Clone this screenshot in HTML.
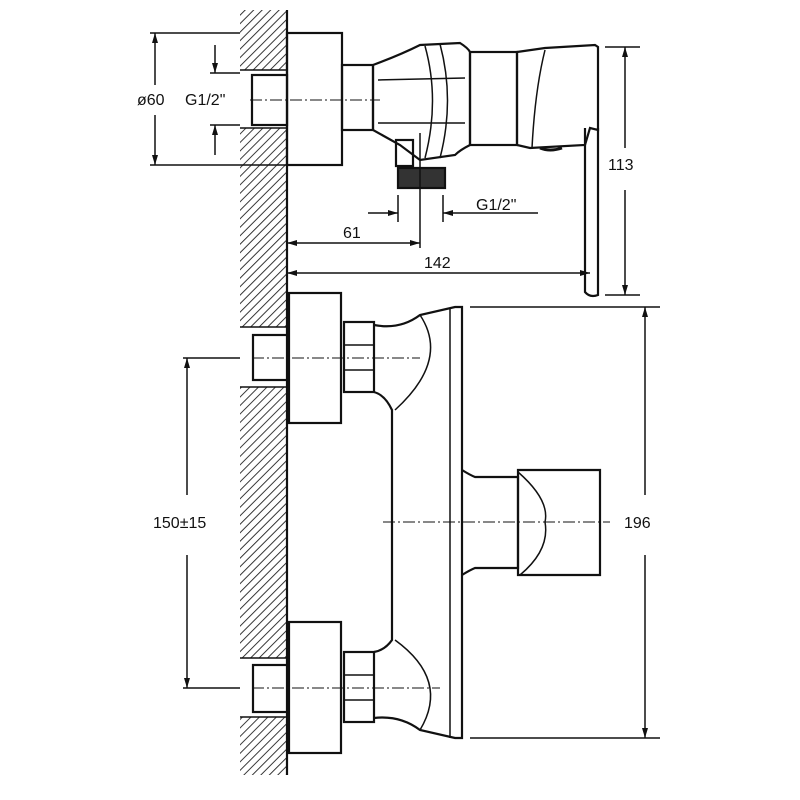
<!DOCTYPE html>
<html><head><meta charset="utf-8"><style>html,body{margin:0;padding:0;background:#fff}svg{display:block}</style></head><body>
<svg width="800" height="800" viewBox="0 0 800 800" xmlns="http://www.w3.org/2000/svg" font-family="Liberation Sans, sans-serif">
<defs>
<pattern id="h" width="6" height="6" patternUnits="userSpaceOnUse" patternTransform="rotate(45)">
<line x1="0" y1="0" x2="0" y2="6" stroke="#222" stroke-width="1.8"/>
</pattern>
<marker id="a" viewBox="0 0 10 6" refX="10" refY="3" markerWidth="10" markerHeight="6" orient="auto-start-reverse" markerUnits="userSpaceOnUse"><path d="M0,0 L10,3 L0,6z" fill="#111"/></marker>
</defs>
<g fill="none" stroke="#111" stroke-width="2.2">
<rect x="240" y="10" width="47" height="60" fill="url(#h)" stroke="none"/>
<rect x="240" y="128" width="47" height="199" fill="url(#h)" stroke="none"/>
<rect x="240" y="387" width="47" height="271" fill="url(#h)" stroke="none"/>
<rect x="240" y="717" width="47" height="58" fill="url(#h)" stroke="none"/>
<line x1="287" y1="10" x2="287" y2="775"/>
<line x1="240" y1="70" x2="287" y2="70" stroke-width="1.5"/><line x1="240" y1="128" x2="287" y2="128" stroke-width="1.5"/>
<line x1="240" y1="327" x2="287" y2="327" stroke-width="1.5"/><line x1="240" y1="387" x2="287" y2="387" stroke-width="1.5"/>
<line x1="240" y1="658" x2="287" y2="658" stroke-width="1.5"/><line x1="240" y1="717" x2="287" y2="717" stroke-width="1.5"/>
<rect x="252" y="75" width="35" height="50" fill="#fff"/>
<rect x="287" y="33" width="55" height="132"/>
<rect x="342" y="65" width="31" height="65"/>
<path d="M373,65 Q400,55 420,45 L460,43 Q468,48 470,52 L470,145 Q460,150 455,155 L420,160 L400,145 L373,130 Z"/>
<path d="M425,46 Q440,100 425,158" stroke-width="1.5"/>
<path d="M440,44 Q455,100 440,158" stroke-width="1.5"/>
<line x1="378" y1="80" x2="465" y2="78" stroke-width="1.5"/>
<line x1="378" y1="123" x2="465" y2="123" stroke-width="1.5"/>
<rect x="470" y="52" width="47" height="93"/>
<path d="M517,52 L545,48 L595,45 L598,47 L598,130 L590,128 L585,145 L530,148 L517,145 Z"/>
<path d="M545,50 Q535,90 532,148" stroke-width="1.5"/>
<path d="M585,128 L585,292 Q590,298 598,295 L598,128"/>
<path d="M540,148 Q550,152 562,148" stroke-width="3"/>
<rect x="396" y="140" width="17" height="26"/>
<rect x="398" y="168" width="47" height="20" fill="#333"/>
<line x1="250" y1="100" x2="380" y2="100" stroke-width="1" stroke-dasharray="12,3,2,3"/>
<line x1="150" y1="33" x2="240" y2="33" stroke-width="1.5"/>
<line x1="150" y1="165" x2="287" y2="165" stroke-width="1.5"/>
<line x1="155" y1="33" x2="155" y2="85" stroke-width="1.5" marker-start="url(#a)"/>
<line x1="155" y1="115" x2="155" y2="165" stroke-width="1.5" marker-end="url(#a)"/>
<line x1="210" y1="73" x2="240" y2="73" stroke-width="1.5"/>
<line x1="210" y1="125" x2="240" y2="125" stroke-width="1.5"/>
<line x1="215" y1="45" x2="215" y2="73" stroke-width="1.5" marker-end="url(#a)"/>
<line x1="215" y1="155" x2="215" y2="125" stroke-width="1.5" marker-end="url(#a)"/>
<line x1="398" y1="195" x2="398" y2="222" stroke-width="1.5"/>
<line x1="443" y1="195" x2="443" y2="222" stroke-width="1.5"/>
<line x1="420" y1="133" x2="420" y2="248" stroke-width="1.5"/>
<line x1="368" y1="213" x2="398" y2="213" stroke-width="1.5" marker-end="url(#a)"/>
<line x1="538" y1="213" x2="443" y2="213" stroke-width="1.5" marker-end="url(#a)"/>
<line x1="287" y1="243" x2="420" y2="243" stroke-width="1.5" marker-start="url(#a)" marker-end="url(#a)"/>
<line x1="287" y1="273" x2="590" y2="273" stroke-width="1.5" marker-start="url(#a)" marker-end="url(#a)"/>
<line x1="605" y1="47" x2="640" y2="47" stroke-width="1.5"/>
<line x1="605" y1="295" x2="640" y2="295" stroke-width="1.5"/>
<line x1="625" y1="47" x2="625" y2="148" stroke-width="1.5" marker-start="url(#a)"/>
<line x1="625" y1="190" x2="625" y2="295" stroke-width="1.5" marker-end="url(#a)"/>
<rect x="253" y="335" width="34" height="45" fill="#fff"/>
<rect x="253" y="665" width="34" height="47" fill="#fff"/>
<rect x="289" y="293" width="52" height="130"/>
<rect x="289" y="622" width="52" height="131"/>
<rect x="344" y="322" width="30" height="70"/>
<line x1="344" y1="345" x2="374" y2="345" stroke-width="1.5"/><line x1="344" y1="370" x2="374" y2="370" stroke-width="1.5"/>
<rect x="344" y="652" width="30" height="70"/>
<line x1="344" y1="675" x2="374" y2="675" stroke-width="1.5"/><line x1="344" y1="700" x2="374" y2="700" stroke-width="1.5"/>
<path d="M374,325 Q400,330 420,315 L455,307 L462,307 L462,738 L455,738 L420,730 Q400,715 374,718"/>
<path d="M374,392 Q385,395 392,410 L392,640 Q385,650 374,652"/>
<path d="M420,315 Q450,360 395,410" stroke-width="1.5"/>
<path d="M420,730 Q450,680 395,640" stroke-width="1.5"/>
<line x1="450" y1="308" x2="450" y2="738" stroke-width="1.5"/>
<path d="M462,470 Q470,475 475,477 L518,477 L518,568 L475,568 Q470,570 462,575"/>
<path d="M518,470 L600,470 L600,575 L518,575 Z"/>
<path d="M518,472 Q550,500 545,522 Q550,550 520,575" stroke-width="1.5"/>
<line x1="183" y1="358" x2="240" y2="358" stroke-width="1.5"/>
<line x1="183" y1="688" x2="240" y2="688" stroke-width="1.5"/>
<line x1="252" y1="358" x2="420" y2="358" stroke-width="1" stroke-dasharray="12,3,2,3"/>
<line x1="252" y1="688" x2="440" y2="688" stroke-width="1" stroke-dasharray="12,3,2,3"/>
<line x1="383" y1="522" x2="610" y2="522" stroke-width="1" stroke-dasharray="12,3,2,3"/>
<line x1="187" y1="358" x2="187" y2="495" stroke-width="1.5" marker-start="url(#a)"/>
<line x1="187" y1="555" x2="187" y2="688" stroke-width="1.5" marker-end="url(#a)"/>
<line x1="470" y1="307" x2="660" y2="307" stroke-width="1.5"/>
<line x1="470" y1="738" x2="660" y2="738" stroke-width="1.5"/>
<line x1="645" y1="307" x2="645" y2="495" stroke-width="1.5" marker-start="url(#a)"/>
<line x1="645" y1="555" x2="645" y2="738" stroke-width="1.5" marker-end="url(#a)"/>
</g>
<g fill="#111" font-size="16">
<text x="137" y="105">ø60</text>
<text x="185" y="105">G1/2"</text>
<text x="476" y="210">G1/2"</text>
<text x="343" y="238">61</text>
<text x="424" y="268">142</text>
<text x="608" y="170">113</text>
<text x="153" y="528">150±15</text>
<text x="624" y="528">196</text>
</g>
</svg>
</body></html>
